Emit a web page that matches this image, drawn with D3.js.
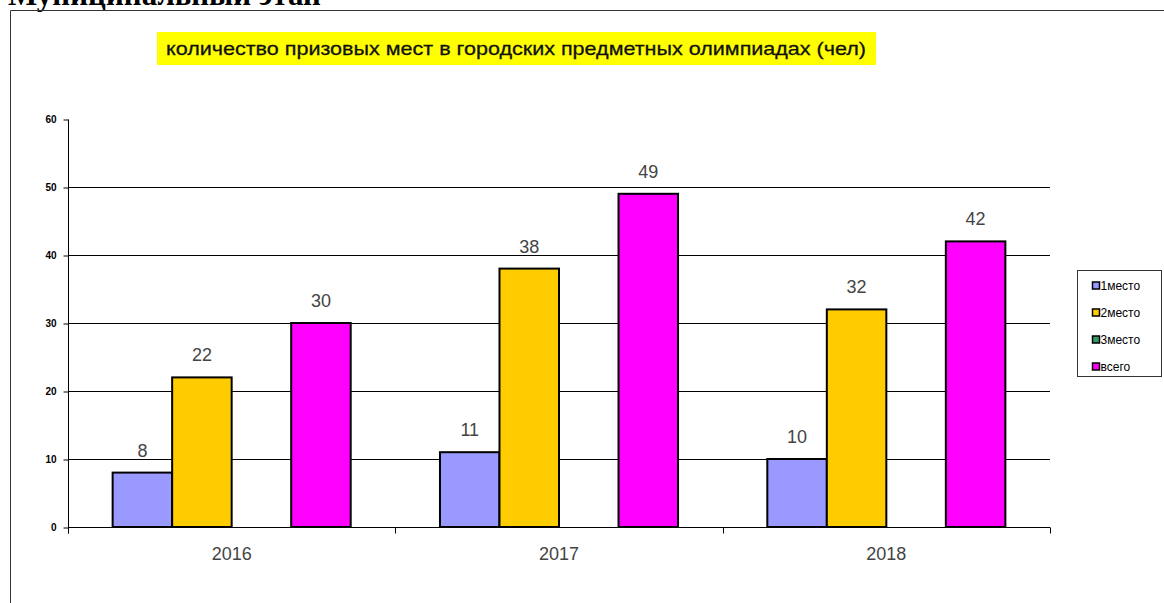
<!DOCTYPE html>
<html>
<head>
<meta charset="utf-8">
<script src="https://cdn.jsdelivr.net/npm/d3@7"></script>
<style>
  body { margin: 0; background: #fff; }
  svg { display: block; }
</style>
</head>
<body>
<div id="chart"></div>
<script>
// data
const years = ['2016', '2017', '2018'];
const seriesNames = ['1место', '2место', '3место', 'всего'];
const place1 = [8, 11, 10];
const place2 = [22, 38, 32];
const place3 = [0, 0, 0];
const total = [30, 49, 42];
const yTicks = [0, 10, 20, 30, 40, 50, 60];

const colors = ['#9999ff', '#ffcc00', '#339966', '#ff00ff'];
const seriesValues = [place1, place2, place3, total];

const W = 1164, H = 603;
const svg = d3.select('#chart').append('svg')
    .attr('width', W)
    .attr('height', H);

// page heading, cut by the top edge as in the source
svg.append('text')
    .attr('x', 8)
    .attr('y', 5)
    .attr('font-family', '"Liberation Serif", "Times New Roman", serif')
    .attr('font-weight', 'bold')
    .attr('font-size', 31)
    .attr('fill', '#000')
    .text('Муниципальный этап');

// chart frame
svg.append('path')
    .attr('d', `M10.5,${H} L10.5,10.5 L${W},10.5`)
    .attr('fill', 'none')
    .attr('stroke', '#333')
    .attr('stroke-width', 1);

// title
svg.append('rect')
    .attr('x', 157).attr('y', 32)
    .attr('width', 719).attr('height', 33)
    .attr('fill', '#ffff00');
svg.append('text')
    .attr('x', 516)
    .attr('y', 55)
    .attr('text-anchor', 'middle')
    .attr('font-family', 'Arial, "Liberation Sans", sans-serif')
    .attr('font-size', 19)
    .attr('fill', '#111')
    .attr('stroke', '#111')
    .attr('stroke-width', 0.3)
    .attr('textLength', 700)
    .attr('lengthAdjust', 'spacingAndGlyphs')
    .text('количество призовых мест в городских предметных олимпиадах (чел)');

const pLeft = 68, pRight = 1050, pTop = 119, pBottom = 527;

const x0 = d3.scaleBand().domain(years).range([pLeft, pRight]).paddingInner(0).paddingOuter(0);
const x1 = d3.scaleBand().domain(seriesNames).range([0, x0.bandwidth()]).paddingInner(0).paddingOuter(0.75);
const y = d3.scaleLinear().domain([0, 60]).range([pBottom, pTop]);

// gridlines
svg.append('g')
    .selectAll('line')
    .data(yTicks.filter(d => d > 0 && d < 60))
    .join('line')
    .attr('x1', pLeft).attr('x2', pRight)
    .attr('y1', d => Math.round(y(d)) + 0.5)
    .attr('y2', d => Math.round(y(d)) + 0.5)
    .attr('stroke', '#000')
    .attr('stroke-width', 1);

// y axis
const yAxis = svg.append('g')
    .attr('transform', `translate(${pLeft + 0.5},0.5)`)
    .call(d3.axisLeft(y).tickValues(yTicks).tickSize(5).tickPadding(7));
yAxis.select('.domain').attr('stroke', '#000').attr('d', `M0,${pTop}V${pBottom + 6}`);
yAxis.selectAll('.tick line').attr('stroke', '#000');
yAxis.selectAll('.tick text')
    .attr('font-family', 'Arial, "Liberation Sans", sans-serif')
    .attr('font-size', 10)
    .attr('font-weight', 'bold')
    .attr('fill', '#000');

// x axis
const xAxis = svg.append('g')
    .attr('transform', `translate(0,${pBottom + 0.5})`);
xAxis.append('line')
    .attr('x1', pLeft).attr('x2', pRight)
    .attr('stroke', '#000');
xAxis.selectAll('.tk')
    .data([pLeft].concat(years.map(d => x0(d) + x0.bandwidth())))
    .join('line')
    .attr('class', 'tk')
    .attr('x1', d => Math.round(d) + 0.5).attr('x2', d => Math.round(d) + 0.5)
    .attr('y1', 0).attr('y2', 6)
    .attr('stroke', '#000');
xAxis.selectAll('text')
    .data(years)
    .join('text')
    .attr('x', d => x0(d) + x0.bandwidth() / 2)
    .attr('y', 32)
    .attr('text-anchor', 'middle')
    .attr('font-family', 'Arial, "Liberation Sans", sans-serif')
    .attr('font-size', 18)
    .attr('fill', '#444')
    .text(d => d);

// bars
const barData = [];
years.forEach((yr, i) => {
    seriesNames.forEach((s, j) => {
        barData.push({ year: yr, series: s, value: seriesValues[j][i], color: colors[j] });
    });
});
const shown = barData.filter(d => d.value > 0);

svg.append('g')
    .selectAll('rect')
    .data(shown)
    .join('rect')
    .attr('x', d => x0(d.year) + x1(d.series))
    .attr('y', d => y(d.value))
    .attr('width', x1.bandwidth())
    .attr('height', d => y(0) - y(d.value))
    .attr('fill', d => d.color)
    .attr('stroke', '#000')
    .attr('stroke-width', 2);

svg.append('g')
    .selectAll('text')
    .data(shown)
    .join('text')
    .attr('x', d => x0(d.year) + x1(d.series) + x1.bandwidth() / 2)
    .attr('y', d => y(d.value) - 16)
    .attr('text-anchor', 'middle')
    .attr('font-family', 'Arial, "Liberation Sans", sans-serif')
    .attr('font-size', 18)
    .attr('fill', '#444')
    .text(d => d.value);

// legend
const legend = svg.append('g').attr('transform', 'translate(1077.5,270.5)');
legend.append('rect')
    .attr('width', 84).attr('height', 106)
    .attr('fill', '#fff')
    .attr('stroke', '#333');
const li = legend.selectAll('g')
    .data(seriesNames)
    .join('g')
    .attr('transform', (d, i) => `translate(15,${15 + i * 27})`);
li.append('rect')
    .attr('x', 0).attr('y', -3.5)
    .attr('width', 7).attr('height', 7)
    .attr('fill', (d, i) => colors[i])
    .attr('stroke', '#000')
    .attr('stroke-width', 1.5);
li.append('text')
    .attr('x', 8)
    .attr('y', 4.5)
    .attr('font-family', 'Arial, "Liberation Sans", sans-serif')
    .attr('font-size', 12)
    .attr('fill', '#000')
    .text(d => d);
</script>
</body>
</html>
